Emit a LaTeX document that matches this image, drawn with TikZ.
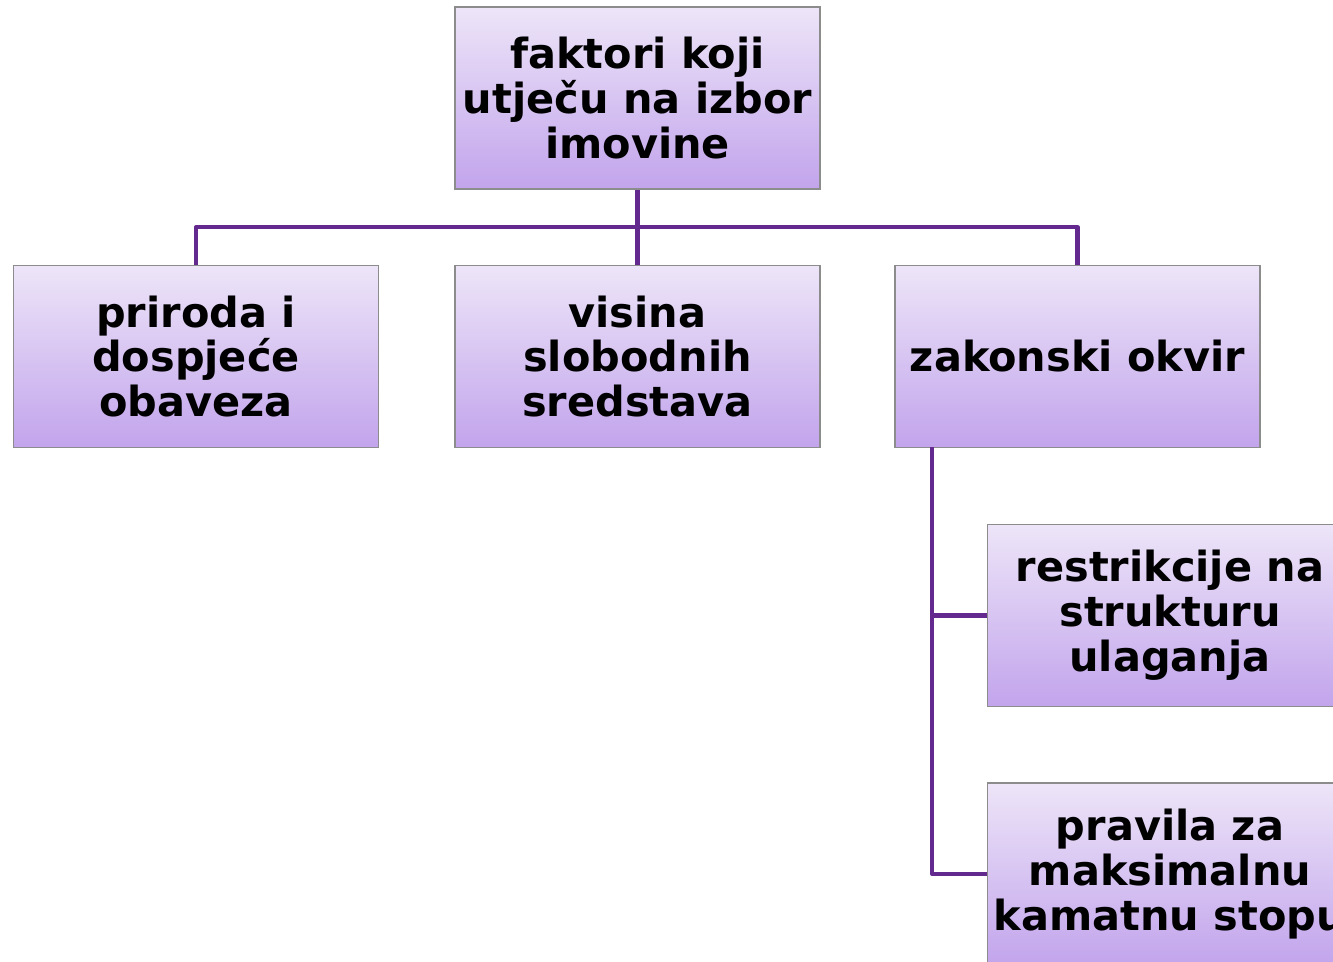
\documentclass[tikz,border=0pt]{standalone}
\usepackage{fontspec}
\setmainfont{DejaVu Sans}
\usetikzlibrary{shadings}
\definecolor{lilac1}{RGB}{237,229,248}
\definecolor{lilac2}{RGB}{194,164,236}
\definecolor{frame}{RGB}{140,140,140}
\definecolor{wire}{RGB}{99,41,143}

\tikzset{
  factor/.style={rectangle, draw=frame, line width=0.9pt,
    top color=lilac1, bottom color=lilac2,
    minimum width=7.3cm, minimum height=3.64cm,
    align=center, inner sep=0pt,
    font=\fontsize{23.6}{25.5}\selectfont\bfseries},
  link/.style={draw=wire, line width=2.3pt, line join=round}
}

\begin{document}
\begin{tikzpicture}[x=0.02cm, y=-0.02cm]
\useasboundingbox (0,0) rectangle (1333,961);
\clip (0,0) rectangle (1333,961);

% root and first level
\node[factor] (top) at (637.5,98) {faktori koji\\utječu na izbor\\imovine};
\node[factor] (a) at (196,356.5) {priroda i\\dospjeće\\obaveza};
\node[factor] (b) at (637.5,356.5) {visina\\slobodnih\\sredstava};
\node[factor] (c) at (1077.5,356.5) {zakonski okvir};

% second level under zakonski okvir
\node[factor] (d) at (1170,615.5) {restrikcije na\\strukturu\\ulaganja};
\node[factor] (e) at (1170,874) {pravila za\\maksimalnu\\kamatnu stopu};

\coordinate (bus) at (637.5,227);
\coordinate (trunk) at (932,447);

\draw[link] (top.south) -- (bus);
\draw[link] (a.north) |- (bus) -| (c.north);
\draw[link] (bus) -- (b.north);
\draw[link] (trunk) |- (d.west);
\draw[link] (trunk) |- (e.west);
\end{tikzpicture}
\end{document}
